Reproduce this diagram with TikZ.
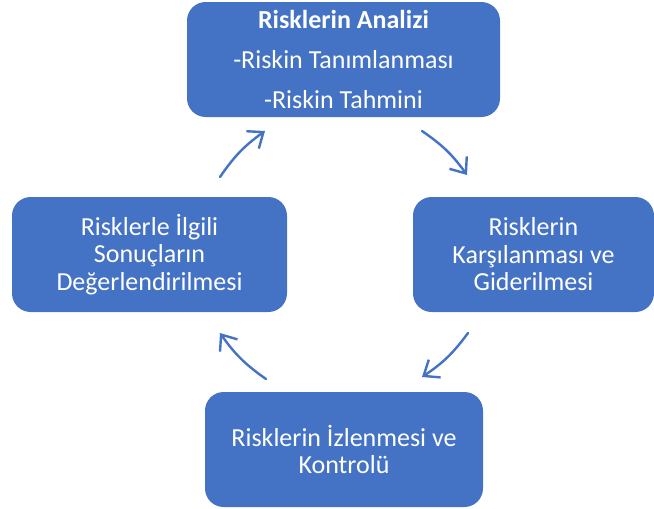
\documentclass[tikz,border=0pt]{standalone}
\usepackage{fontspec}
\setmainfont{Carlito}
\usetikzlibrary{arrows.meta, positioning}

\begin{document}
\begin{tikzpicture}[
    x=0.75pt, y=-0.75pt,
    >={Straight Barb[length=10pt, width=16pt, line width=1.8pt]},
    font=\fontsize{19.5}{20.6}\selectfont,
    riskbox/.style={fill=riskBlue, text=white, rounded corners=14pt,
                    align=center, inner sep=0pt},
    cyclearrow/.style={->, riskBlue, line width=1.8pt, line cap=round},
]

\definecolor{riskBlue}{RGB}{68,114,196}   % office blue

\useasboundingbox (0, 0) rectangle (654, 508);

% ============================================================
% BOXES
% ============================================================
\node[riskbox, minimum width=313*0.75pt, minimum height=115*0.75pt]
    (analiz) at (343.5, 59.5)
    {\textbf{Risklerin Analizi}\\[9.4pt]
     -Riskin Tanımlanması\\[9.4pt]
     -Riskin Tahmini};

\node[riskbox, minimum width=241*0.75pt, minimum height=115*0.75pt]
    (karsilama) at (533.5, 254.5)
    {Risklerin\\Karşılanması ve\\Giderilmesi};

\node[riskbox, minimum width=278*0.75pt, minimum height=115*0.75pt]
    (izleme) at (344, 449.5)
    {Risklerin İzlenmesi ve\\Kontrolü};

\node[riskbox, minimum width=275*0.75pt, minimum height=115*0.75pt]
    (degerlendirme) at (149.5, 254.5)
    {Risklerle İlgili\\Sonuçların\\Değerlendirilmesi};

% ============================================================
% CYCLE ARROWS
% ============================================================
\coordinate (a1s) at (220, 177);
\coordinate (a1e) at (265, 131);
\coordinate (a2s) at (422, 131);
\coordinate (a2e) at (467, 175);
\coordinate (a3s) at (468, 333);
\coordinate (a3e) at (422, 377);
\coordinate (a4s) at (266, 379);
\coordinate (a4e) at (220, 333);

\draw[cyclearrow] (a1s) to[bend left=10] (a1e);
\draw[cyclearrow] (a2s) to[bend left=10] (a2e);
\draw[cyclearrow] (a3s) to[bend left=10] (a3e);
\draw[cyclearrow] (a4s) to[bend left=10] (a4e);

\end{tikzpicture}
\end{document}
